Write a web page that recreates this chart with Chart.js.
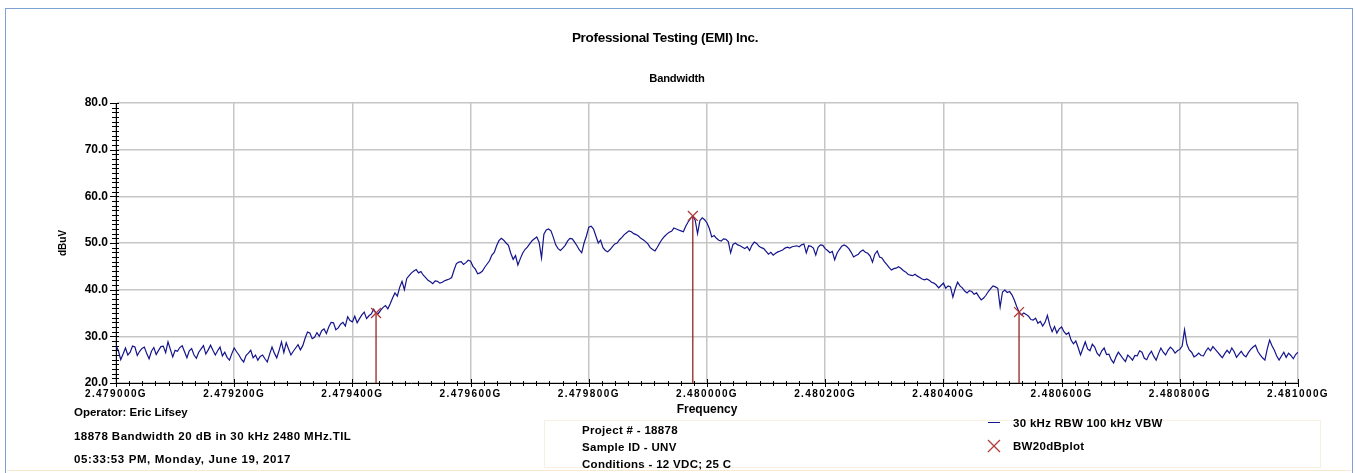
<!DOCTYPE html>
<html>
<head>
<meta charset="utf-8">
<script src="https://cdn.jsdelivr.net/npm/chart.js@4/dist/chart.umd.min.js"></script>
<style>
  html, body { margin: 0; padding: 0; background: #fff; width: 1355px; height: 473px; overflow: hidden;
    font-family: "Liberation Sans", Arial, sans-serif; }
  #frame { position: absolute; left: 5px; top: 8px; width: 1348px; height: 470px; box-sizing: border-box;
    border: 1.5px solid #7ea1d5; border-bottom: none; }
  #baseLine { position: absolute; left: 7px; top: 470px; width: 1344px; height: 1px; background: #f8e8cf; }
  #infoBox { position: absolute; left: 544px; top: 420px; width: 777px; height: 48px; box-sizing: border-box;
    border: 1px solid #f7efdf; }
  #wrap { position: absolute; left: 0; top: 0; width: 1355px; height: 473px; }
  .t { position: absolute; font-weight: bold; color: #000; white-space: nowrap; line-height: 1;
    transform: translateY(-50%); font-size: 11.5px; }
  .c { transform: translate(-50%, -50%); }
  #legLine { position: absolute; left: 988px; top: 421.5px; width: 12px; height: 1.4px; background: #14148c; }
  #legX { position: absolute; left: 987px; top: 439px; }
</style>
</head>
<body>
<div id="frame"></div>
<div id="baseLine"></div>
<div id="infoBox"></div>

<div id="wrap"><canvas id="chart" width="1355" height="473"></canvas></div>

<div class="t c" style="left:665px; top:38px; font-size:13.5px; letter-spacing:-0.3px;">Professional Testing (EMI) Inc.</div>
<div class="t c" style="left:677px; top:79px; font-size:11.2px; letter-spacing:-0.2px;">Bandwidth</div>

<div class="t" style="left:74px; top:413px;">Operator: Eric Lifsey</div>
<div class="t" style="left:74px; top:437px; letter-spacing:0.45px;">18878 Bandwidth 20 dB in 30 kHz 2480 MHz.TIL</div>
<div class="t" style="left:74px; top:460px; letter-spacing:0.6px;">05:33:53 PM, Monday, June 19, 2017</div>

<div class="t" style="left:582px; top:431px; letter-spacing:0.3px;">Project # - 18878</div>
<div class="t" style="left:582px; top:448px; letter-spacing:0.3px;">Sample ID - UNV</div>
<div class="t" style="left:582px; top:465px; letter-spacing:0.3px;">Conditions - 12 VDC; 25 C</div>

<div id="legLine"></div>
<svg id="legX" width="14" height="14" viewBox="0 0 14 14">
  <line x1="1" y1="1" x2="13" y2="13" stroke="#b23a3a" stroke-width="1.3"/>
  <line x1="13" y1="1" x2="1" y2="13" stroke="#b23a3a" stroke-width="1.3"/>
</svg>
<div class="t" style="left:1013px; top:424px; letter-spacing:0.3px;">30 kHz RBW 100 kHz VBW</div>
<div class="t" style="left:1013px; top:447px; letter-spacing:0.3px;">BW20dBplot</div>

<script>
// Sweep: 2.479000 GHz to 2.481000 GHz in 4 kHz steps (frequencies in kHz)
const sweepStartKHz = 2479000;
const sweepStepKHz = 4;

// Measured trace level (dBuV), one value per sweep point
const traceLevels = [
  28.1, 26.9, 25.0, 26.2, 27.5, 26.0, 26.6, 27.9, 27.7, 25.9, 26.8, 27.4, 27.7, 26.3, 25.2, 26.8, 27.6, 26.1, 27.0, 27.8,
  27.9, 26.5, 28.8, 27.2, 25.6, 27.0, 26.8, 27.6, 28.0, 26.7, 25.4, 26.9, 27.4, 26.0, 25.3, 26.6, 27.3, 28.0, 26.2, 27.1,
  28.1, 27.0, 26.0, 26.9, 27.7, 25.8, 26.6, 25.5, 24.9, 26.3, 27.5, 26.7, 26.0, 25.1, 24.5, 25.9, 26.4, 27.0, 25.4, 26.0,
  24.9, 25.7, 26.0, 25.2, 24.5, 26.2, 27.7, 26.4, 25.4, 27.0, 28.8, 26.5, 28.6, 27.3, 26.0, 26.8, 27.5, 28.2, 27.1, 28.0,
  29.6, 30.9, 30.7, 29.5, 29.8, 30.8, 30.0, 31.2, 31.6, 30.6, 32.0, 33.0, 32.9, 31.4, 31.8, 32.6, 33.0, 32.2, 34.2, 33.4,
  33.1, 34.3, 32.9, 33.8, 34.6, 35.2, 33.8, 34.4, 34.8, 35.8, 35.0, 34.9, 35.6, 36.2, 36.6, 35.9, 37.0, 38.2, 39.3, 38.6,
  40.5, 41.8, 40.0, 42.4, 43.0, 43.6, 44.0, 44.3, 43.6, 43.9, 43.1, 42.6, 42.0, 41.7, 41.3, 41.9, 41.8, 41.4, 41.6, 41.9,
  42.1, 42.3, 42.6, 44.2, 45.6, 45.9, 46.0, 45.4, 45.8, 46.3, 46.1, 45.0, 44.4, 43.4, 43.6, 44.0, 44.8, 45.5, 46.2, 47.4,
  48.0, 49.4, 50.5, 51.0, 50.6, 50.0, 49.5, 47.8, 46.5, 47.3, 45.3, 46.6, 47.8, 48.6, 49.1, 49.8, 50.5, 50.9, 51.3, 50.1,
  46.8, 51.9, 52.8, 53.0, 52.6, 51.2, 49.6, 48.8, 48.4, 48.9, 49.5, 50.4, 51.0, 50.9, 50.2, 49.4, 48.5, 47.9, 50.0, 51.5,
  53.4, 53.6, 53.0, 51.5, 50.0, 50.6, 49.0, 48.4, 48.1, 48.6, 49.2, 49.8, 50.0, 50.7, 51.2, 51.8, 52.2, 52.6, 52.4, 52.0,
  51.8, 51.5, 51.0, 50.7, 50.3, 49.8, 49.0, 48.6, 48.3, 49.1, 50.0, 50.8, 51.4, 51.9, 52.3, 52.5, 53.2, 53.0, 52.8, 52.6,
  52.4, 53.6, 54.5, 55.2, 55.8, 54.9, 52.0, 54.8, 55.4, 55.0, 54.3, 53.1, 51.3, 51.6, 51.0, 50.6, 50.4, 50.9, 50.8, 50.3,
  47.9, 49.7, 50.0, 49.6, 49.4, 49.1, 48.8, 49.2, 48.4, 49.5, 50.2, 49.9, 49.3, 49.0, 48.8, 48.2, 47.6, 48.0, 47.4, 47.8,
  48.1, 48.3, 48.5, 48.9, 49.1, 48.9, 49.2, 49.3, 49.4, 49.2, 49.6, 49.8, 47.9, 49.4, 49.3, 48.9, 47.4, 49.1, 49.6, 49.5,
  48.8, 48.4, 47.9, 48.2, 46.4, 47.8, 48.6, 49.3, 49.6, 49.3, 48.8, 48.0, 47.0, 47.3, 47.6, 48.2, 48.5, 48.0, 47.8, 47.2,
  45.9, 47.6, 48.3, 47.0, 46.8, 46.0, 45.4, 44.8, 44.2, 44.5, 44.6, 44.9, 44.6, 44.1, 43.8, 43.3, 43.1, 43.0, 43.3, 42.9,
  42.6, 42.3, 42.1, 42.3, 42.0, 41.6, 41.4, 41.0, 40.4, 40.9, 41.4, 40.3, 40.8, 40.6, 38.4, 40.2, 41.6, 40.8, 40.4, 39.7,
  39.3, 39.8, 39.6, 39.0, 39.3, 38.5, 37.8, 38.2, 38.8, 39.6, 40.2, 40.8, 40.6, 40.3, 36.3, 39.5, 39.9, 39.4, 39.6, 38.9,
  37.8, 36.4, 35.2, 34.6, 35.0, 34.7, 34.3, 33.6, 33.5, 33.9, 32.8, 33.2, 32.2, 33.0, 34.5, 32.4, 31.0, 32.1, 30.7, 31.6,
  32.0, 31.0, 30.4, 30.8, 29.2, 28.4, 29.0, 27.6, 26.0, 27.4, 28.8, 27.3, 26.9, 28.3, 27.7, 26.4, 25.8, 26.9, 27.5, 26.1,
  26.2, 25.0, 24.3, 25.6, 26.6, 25.9, 25.2, 24.6, 26.0, 25.5, 24.9, 25.9, 25.8, 26.9, 26.6, 25.3, 25.0, 26.1, 26.8, 25.7,
  24.9, 26.3, 27.5, 26.6, 26.0, 27.0, 27.7, 27.2, 26.4, 26.9, 27.2, 27.9, 31.4, 28.3, 27.1, 26.6, 25.6, 25.9, 26.4, 25.9,
  25.8, 26.8, 27.5, 26.9, 27.8, 27.2, 26.6, 26.0, 25.4, 26.3, 27.0, 26.4, 27.5, 26.7, 25.5, 26.2, 26.8, 26.0, 25.6, 26.5,
  27.2, 27.7, 28.1, 26.8, 26.0, 25.4, 24.9, 27.3, 29.2, 28.0, 27.0, 25.8, 24.9, 25.8, 26.6, 25.5, 26.4, 25.9, 25.2, 26.1, 26.6
];

// 20 dB bandwidth markers: frequency (kHz) and level (dBuV)
const markerFreqKHz = [2479440, 2479976, 2480528];
const markerLevels = [35.0, 55.8, 35.2];

// Axis ranges
const freqMinKHz = 2479000, freqMaxKHz = 2481000, freqMajorKHz = 200, freqMinorDiv = 9;
const levelMin = 20, levelMax = 80, levelMajor = 10, levelMinor = 1;

const traceData = traceLevels.map((v, i) => ({ x: sweepStartKHz + i * sweepStepKHz, y: v }));
const markerData = markerFreqKHz.map((f, i) => ({ x: f, y: markerLevels[i] }));
const stemSets = markerFreqKHz.map((f, i) => ({
  data: [{ x: f, y: levelMin }, { x: f, y: markerLevels[i] }],
  borderColor: '#8b1212', borderWidth: 1.2, pointRadius: 0, fill: false
}));

// Small cross-ticks along both axes (1 dB and 200/9 kHz spacing)
const axisTicks = {
  id: 'axisTicks',
  afterDraw(chart) {
    const { ctx, chartArea: { left, bottom }, scales: { x, y } } = chart;
    ctx.save();
    ctx.strokeStyle = '#000';
    ctx.lineWidth = 1;
    ctx.beginPath();
    for (let v = levelMin; v <= levelMax; v += levelMinor) {
      const py = Math.round(y.getPixelForValue(v)) + 0.5;
      const major = v % levelMajor === 0;
      ctx.moveTo(left - (major ? 6 : 4), py);
      ctx.lineTo(left + 3, py);
    }
    const n = (freqMaxKHz - freqMinKHz) / freqMajorKHz * freqMinorDiv;
    for (let k = 0; k <= n; k++) {
      const f = freqMinKHz + k * freqMajorKHz / freqMinorDiv;
      const px = Math.round(x.getPixelForValue(f)) + 0.5;
      const major = k % freqMinorDiv === 0;
      ctx.moveTo(px, bottom - (major ? 4 : 2));
      ctx.lineTo(px, bottom + (major ? 4 : 3));
    }
    ctx.stroke();
    ctx.restore();
  }
};

// Spread out the frequency tick labels
const spacedFreqLabels = {
  id: 'spacedFreqLabels',
  beforeDraw(chart) {
    const sc = chart.scales.x;
    if (sc && !sc._spaced) {
      const orig = sc.drawLabels;
      sc.drawLabels = function (area) {
        const c = this.ctx;
        c.save();
        c.letterSpacing = '1.4px';
        orig.call(this, area);
        c.restore();
      };
      sc._spaced = true;
    }
  }
};

new Chart(document.getElementById('chart'), {
  type: 'line',
  data: {
    datasets: [
      {
        label: 'BW20dBplot',
        data: markerData,
        showLine: false,
        pointStyle: 'crossRot',
        pointRadius: 7,
        pointBorderColor: '#b23a3a',
        pointBorderWidth: 1.3,
        borderColor: '#b23a3a'
      },
      ...stemSets,
      {
        label: '30 kHz RBW 100 kHz VBW',
        data: traceData,
        borderColor: '#14148c',
        borderWidth: 1.2,
        pointRadius: 0,
        tension: 0,
        fill: false
      }
    ]
  },
  options: {
    responsive: false,
    animation: false,
    devicePixelRatio: 1,
    events: [],
    layout: { padding: { left: 0, right: 57, top: 103, bottom: 0 } },
    plugins: { legend: { display: false }, tooltip: { enabled: false }, title: { display: false } },
    scales: {
      x: {
        type: 'linear',
        min: freqMinKHz,
        max: freqMaxKHz,
        afterFit(scale) { scale.height = 90; },
        ticks: {
          stepSize: freqMajorKHz,
          autoSkip: false,
          maxRotation: 0,
          padding: 5,
          color: '#000',
          font: { family: '"Liberation Sans", Arial, sans-serif', size: 10, weight: 'bold' },
          callback: v => (v / 1e6).toFixed(6) + 'G'
        },
        grid: { color: '#c6c6c6', lineWidth: 1.5, drawTicks: false },
        border: { color: '#000', width: 1 },
        title: {
          display: true, text: 'Frequency', color: '#000',
          font: { family: '"Liberation Sans", Arial, sans-serif', size: 12, weight: 'bold' },
          padding: { top: 0, bottom: 55.8 }
        }
      },
      y: {
        min: levelMin,
        max: levelMax,
        afterFit(scale) { scale.width = 116; },
        ticks: {
          stepSize: levelMajor,
          padding: 8,
          color: '#000',
          font: { family: '"Liberation Sans", Arial, sans-serif', size: 12, weight: 'bold' },
          callback: v => v.toFixed(1)
        },
        grid: { color: '#c6c6c6', lineWidth: 1.5, drawTicks: false },
        border: { color: '#000', width: 1 },
        title: {
          display: true, text: 'dBuV', color: '#000',
          font: { family: '"Liberation Sans", Arial, sans-serif', size: 10, weight: 'bold' },
          padding: { top: 57.5, bottom: 0 }
        }
      }
    }
  },
  plugins: [axisTicks, spacedFreqLabels]
});
</script>
</body>
</html>
